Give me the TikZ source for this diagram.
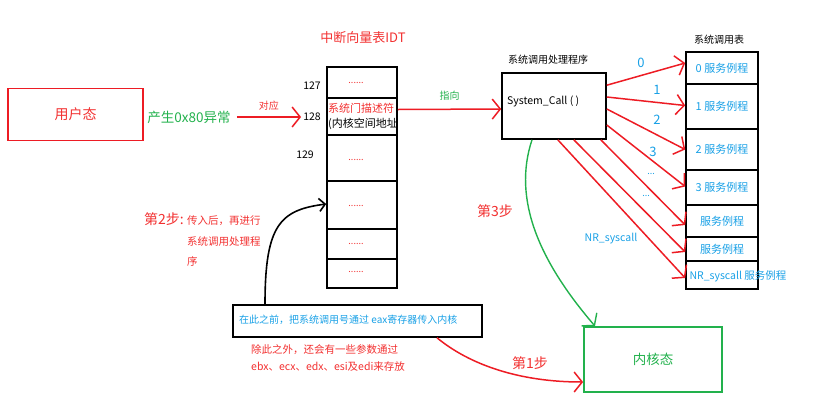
\documentclass[tikz,border=0pt]{standalone}
\usepackage{fontspec}
\setmainfont{Noto Sans CJK SC}
\usetikzlibrary{arrows.meta}
\definecolor{rd}{RGB}{237,28,36}
\definecolor{rt}{RGB}{242,48,48}
\definecolor{gn}{RGB}{34,177,76}
\definecolor{bl}{RGB}{24,160,230}
\newcommand{\fs}[1]{\fontsize{#1}{#1}\selectfont}
\begin{document}
\begin{tikzpicture}[x=1pt,y=-1pt,
  cell/.style={draw=black, line width=1.6pt, inner sep=0pt, minimum width=70pt},
  tcell/.style={draw=black, line width=1.6pt, inner sep=0pt, minimum width=72pt, text=bl, font=\fs{11}},
  dots/.style={text=rt, font=\fs{9}},
  redarrow/.style={draw=rd, line width=1.5pt, -{Straight Barb[length=8pt,width=20pt]}},
  lbl/.style={inner sep=0pt, font=\fs{10}},
  num/.style={inner sep=0pt, text=bl, font=\fs{13}}]
\useasboundingbox (0,0) rectangle (820,400);
% user box
\node[draw=rd, line width=1.8pt, minimum width=135pt, minimum height=52pt, text=rt, font=\fs{14}] (ub) at (75.5,114.5) {用户态};
\node[lbl, text=gn, font=\fs{13.5}] (gen) at (189,117) {产生0x80异常};
% IDT
\node[lbl, text=rt, font=\fs{13}] (idtt) at (363,38) {中断向量表IDT};
\node[cell, minimum height=31pt] (i1) at (362,82.5) {};
\node[cell, minimum height=37pt] (i2) at (362,116.5) {};
\node[cell, minimum height=46pt] (i3) at (362,158) {};
\node[cell, minimum height=48pt] (i4) at (362,205) {};
\node[cell, minimum height=30pt] (i5) at (362,244) {};
\node[cell, minimum height=29pt] (i6) at (362,273.5) {};
\node[dots] (d1) at (356,83) {......};
\node[dots] (d3) at (356,160) {......};
\node[dots] (d4) at (356,206) {......};
\node[dots] (d5) at (356,244) {......};
\node[dots] (d6) at (356,272) {......};
\node[lbl, anchor=west, text=rt, font=\fs{11}] (gate) at (328,108) {系统门描述符};
\node[lbl, anchor=west, font=\fs{11}] (kaddr) at (328,124) {(内核空间地址};
\node[lbl, font=\fs{10.5}] (n127) at (312,86) {127};
\node[lbl, font=\fs{10.5}] (n128) at (312,117) {128};
\node[lbl, font=\fs{10.5}] (n129) at (305,155) {129};
\draw[redarrow] ([xshift=6pt]gen.east) -- ([xshift=-2pt]n128.west) node[midway, above=3pt, text=rt, font=\fs{10}] {对应};
% system call handler
\node[lbl] (sct) at (548,60) {系统调用处理程序};
\node[draw=black, line width=1.6pt, minimum width=104pt, minimum height=66pt] (sc) at (554,106) {};
\node[lbl, anchor=west, font=\fs{10.5}] (scl) at (507,101) {System\_Call ( )};
\draw[redarrow] ([yshift=7pt]i2.east) -- ([yshift=-3pt]sc.west) node[midway, above=5pt, text=gn, font=\fs{10}] {指向};
% system call table
\node[lbl] (tt) at (719,40) {系统调用表};
\node[tcell, minimum height=32pt] (t0) at (722,68) {0 服务例程};
\node[tcell, minimum height=45pt] (t1) at (722,106.5) {1 服务例程};
\node[tcell, minimum height=41pt] (t2) at (722,149.5) {2 服务例程};
\node[tcell, minimum height=35pt] (t3) at (722,187.5) {3 服务例程};
\node[tcell, minimum height=32pt] (t4) at (722,221) {服务例程};
\node[tcell, minimum height=24pt] (t5) at (722,249) {服务例程};
\node[tcell, minimum height=28pt] (t6) at (722,275) {};
\node[lbl, text=bl, font=\fs{10.5}] (t6l) at (738,276) {NR\_syscall 服务例程};
\draw[redarrow] ([yshift=-13pt]sc.north east) -- ([yshift=5pt]t0.west);
\draw[redarrow] ([yshift=9pt]sc.east) -- ([yshift=1pt]t1.west);
\draw[redarrow] ([yshift=-3pt]sc.east) -- (t2.west);
\draw[redarrow] ([yshift=-19pt]sc.east) -- ([yshift=1pt]t3.west);
\draw[redarrow] ([xshift=-6pt]sc.south east) -- ([yshift=-4pt]t4.west);
\draw[redarrow] ([xshift=-33pt]sc.south east) -- ([yshift=-3pt]t5.west);
\draw[redarrow] ([xshift=-49pt]sc.south east) -- ([yshift=-3pt]t6.west);
\node[num] (l0) at (641,63) {0};
\node[num] (l1) at (657,90) {1};
\node[num] (l2) at (657,120) {2};
\node[num] (l3) at (653,152) {3};
\node[lbl, text=bl, font=\fs{9}] (l4) at (651,174) {...};
\node[lbl, text=bl, font=\fs{9}] (l5) at (646,196) {...};
\node[lbl, text=bl, font=\fs{10.5}] (l6) at (611,239) {NR\_syscall};
% kernel
\node[draw=gn, line width=1.8pt, minimum width=138pt, minimum height=65pt, text=gn, font=\fs{13.5}] (kb) at (653,359.5) {内核态};
\draw[gn, line width=1.4pt, -{Straight Barb[length=8pt,width=20pt]}] ([xshift=-22pt]sc.south) .. controls (512,200) and (540,262) .. ([xshift=-58pt]kb.north);
\node[lbl, text=rt, font=\fs{14}] (s3) at (495,211) {第3步};
% before box
\node[draw=black, line width=1.6pt, minimum width=249pt, minimum height=32pt] (bb) at (357.5,321) {};
\node[lbl, anchor=west, text=bl, font=\fs{10}] (bbt) at (239,320) {在此之前，把系统调用号通过 eax寄存器传入内核};
\node[lbl, anchor=west, text=rt, font=\fs{10.5}] (ex1) at (251,350) {除此之外，还会有一些参数通过};
\node[lbl, anchor=west, text=rt, font=\fs{10.5}] (ex2) at (251,367) {ebx、ecx、edx、esi及edi来存放};
\draw[rd, line width=1.5pt, -{Straight Barb[length=8pt,width=20pt]}] ([xshift=79.5pt]bb.south) .. controls (470,365) and (520,382) .. ([yshift=-22.5pt]kb.west);
\node[lbl, text=rt, font=\fs{14}] (s1) at (530,363) {第1步};
\draw[black, line width=1.6pt, -{Straight Barb[length=6pt,width=13pt]}] ([xshift=-92.5pt]bb.north) .. controls (265,225) and (280,210) .. ([yshift=1pt]i4.west);
\node[lbl, text=rt, font=\fs{14}] (s2) at (164,219) {第2步:};
\node[lbl, anchor=west, text=rt, font=\fs{10.5}] (s2a) at (187,221) {传入后，再进行};
\node[lbl, anchor=west, text=rt, font=\fs{10.5}] (s2b) at (187,242) {系统调用处理程};
\node[lbl, anchor=west, text=rt, font=\fs{10.5}] (s2c) at (187,261) {序};
\end{tikzpicture}
\end{document}
